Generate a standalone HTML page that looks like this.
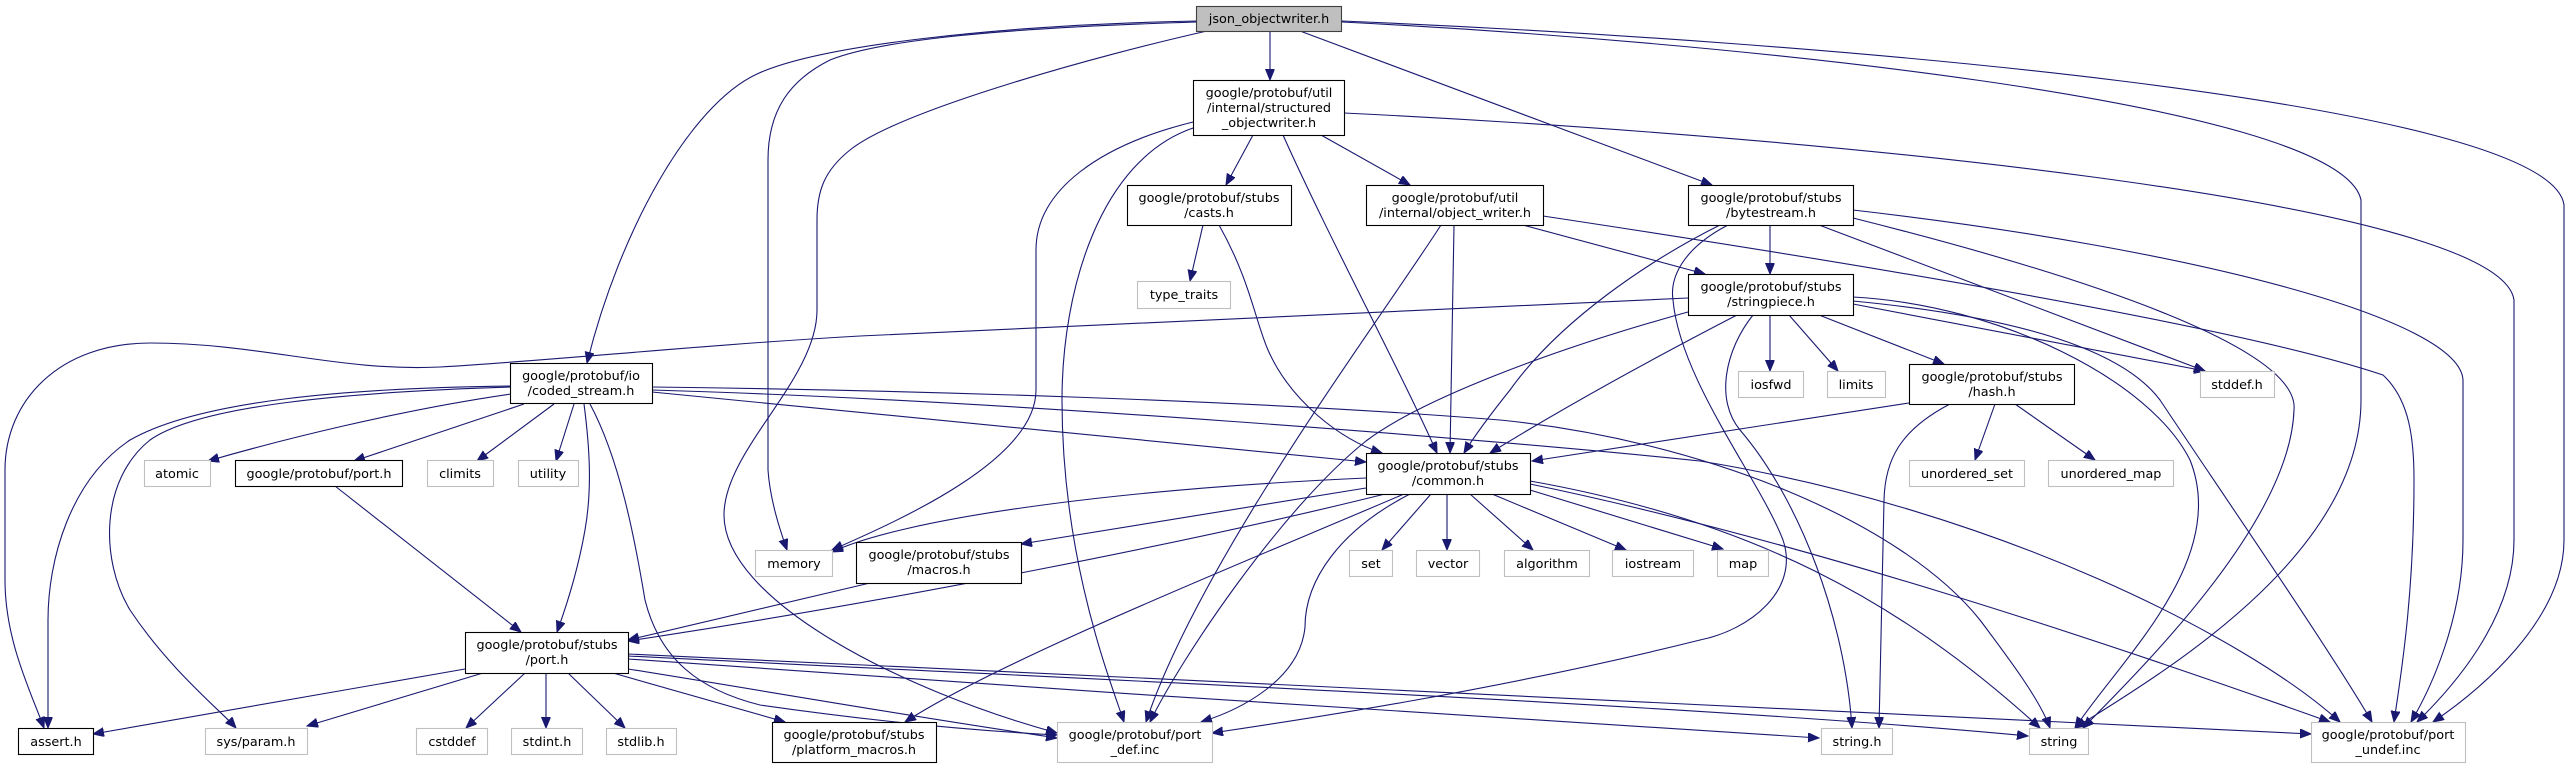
<!DOCTYPE html>
<html><head><meta charset="utf-8"><style>
html,body{margin:0;padding:0;background:#fff;}
svg{display:block;}
text{font-family:"DejaVu Sans","Liberation Sans",sans-serif;font-size:12.8px;fill:#000;text-anchor:middle;}
.e{fill:none;stroke:#191970;stroke-width:1.1;marker-end:url(#a);}
.b{fill:#fff;stroke:#000;stroke-width:1.1;}
.g{fill:#fff;stroke:#bfbfbf;stroke-width:1.1;}
</style></head><body>
<svg width="2571" height="767" viewBox="0 0 2571 767" xmlns="http://www.w3.org/2000/svg">
<defs><marker id="a" markerUnits="userSpaceOnUse" markerWidth="12" markerHeight="10" refX="11" refY="4.5" orient="auto"><path d="M0,0 L11,4.5 L0,9 z" fill="#191970" stroke="#191970"/></marker></defs>
<!-- edges -->
<path class="e" d="M1270,31 L1270,80"/>
<path class="e" d="M1197,21 C1000,25 820,45 757,74 C690,105 620,230 587,363"/>
<path class="e" d="M1197,22 C1000,28 880,40 830,60 C790,80 768,110 768,160 L768,470 C770,500 780,530 787,550"/>
<path class="e" d="M1207,31 C1100,55 900,110 850,150 C825,170 817,190 817,220 L817,310 C817,380 724,450 724,515 C724,600 900,690 1057,733"/>
<path class="e" d="M1300,31 L1712,185"/>
<path class="e" d="M1342,22 C1700,40 2340,100 2361,200 L2361,400 C2361,560 2150,680 2075,728"/>
<path class="e" d="M1342,21 C1800,40 2550,100 2564,205 L2564,540 C2564,620 2480,690 2433,722"/>
<path class="e" d="M1253,135 L1226,185"/>
<path class="e" d="M1321,135 L1410,185"/>
<path class="e" d="M1283,135 C1330,240 1400,370 1437,453"/>
<path class="e" d="M1344,113 C1800,135 2500,200 2514,300 L2514,540 C2514,620 2450,690 2417,722"/>
<path class="e" d="M1193,122 C1100,145 1036,190 1036,250 L1036,390 C1036,460 900,520 832,550"/>
<path class="e" d="M1193,128 C1100,160 1062,290 1062,400 C1062,560 1110,680 1124,722"/>
<path class="e" d="M1203,225 L1190,281"/>
<path class="e" d="M1219,225 C1250,280 1255,320 1268,350 C1290,400 1340,440 1382,453"/>
<path class="e" d="M1454,225 L1450,453"/>
<path class="e" d="M1441,225 C1380,320 1200,560 1146,722"/>
<path class="e" d="M1523,225 L1705,274"/>
<path class="e" d="M1543,216 C1900,270 2250,330 2383,375 C2410,400 2414,440 2414,480 C2414,600 2400,680 2394,722"/>
<path class="e" d="M1770,225 L1770,274"/>
<path class="e" d="M1720,225 C1650,260 1560,320 1510,390 C1490,415 1475,435 1464,453"/>
<path class="e" d="M1728,225 C1680,250 1670,280 1673,300 C1680,380 1760,480 1783,540 C1800,590 1750,630 1700,640 C1500,690 1300,720 1212,733"/>
<path class="e" d="M1819,225 L2205,371"/>
<path class="e" d="M1853,218 C2100,280 2300,350 2294,410 C2290,520 2150,660 2083,728"/>
<path class="e" d="M1853,210 C2200,250 2460,320 2463,380 L2463,540 C2463,620 2430,690 2411,722"/>
<path class="e" d="M1770,315 L1770,371"/>
<path class="e" d="M1789,315 L1838,371"/>
<path class="e" d="M1819,315 L1944,364"/>
<path class="e" d="M1853,304 L2205,371"/>
<path class="e" d="M1853,297 C2000,305 2150,380 2190,460 C2230,560 2120,660 2075,728"/>
<path class="e" d="M1853,301 C2050,320 2130,360 2160,400 C2220,490 2330,650 2372,722"/>
<path class="e" d="M1753,315 C1725,350 1715,400 1740,430 C1800,500 1845,620 1852,728"/>
<path class="e" d="M1737,315 C1650,360 1560,410 1490,453"/>
<path class="e" d="M1688,312 C1550,350 1420,400 1366,441 C1280,510 1180,660 1150,722"/>
<path class="e" d="M1688,298 L860,336 C700,345 560,360 440,367 C340,372 260,343 150,343 C60,343 5,400 5,470 L5,580 C5,640 30,690 44,728"/>
<path class="e" d="M1995,404 L1975,460"/>
<path class="e" d="M2015,404 L2095,460"/>
<path class="e" d="M1950,404 C1900,430 1885,460 1884,500 L1879,728"/>
<path class="e" d="M1909,403 L1532,461"/>
<path class="e" d="M511,394 C400,410 280,440 208,461"/>
<path class="e" d="M524,404 L354,461"/>
<path class="e" d="M554,404 L477,461"/>
<path class="e" d="M574,404 L556,461"/>
<path class="e" d="M584,404 C590,450 592,490 585,530 C578,570 565,610 557,632"/>
<path class="e" d="M511,386 C350,388 200,400 130,440 C70,480 48,560 48,620 L48,728"/>
<path class="e" d="M511,387 C350,392 200,405 150,440 C100,480 100,560 130,610 C170,670 220,710 236,728"/>
<path class="e" d="M590,404 C620,460 635,540 645,600 C660,660 700,690 760,705 C900,725 1000,732 1057,735"/>
<path class="e" d="M652,392 L1366,462"/>
<path class="e" d="M652,387 C900,390 1250,400 1500,420 C1700,440 1900,520 1980,620 C2010,660 2040,700 2050,728"/>
<path class="e" d="M652,390 C1000,400 1500,440 1700,461 C2000,510 2250,640 2340,722"/>
<path class="e" d="M465,669 L93,734"/>
<path class="e" d="M483,673 L307,726"/>
<path class="e" d="M525,673 L466,728"/>
<path class="e" d="M546,673 L546,728"/>
<path class="e" d="M568,673 L625,728"/>
<path class="e" d="M613,673 L785,722"/>
<path class="e" d="M628,669 C760,690 900,715 1057,738"/>
<path class="e" d="M628,659 C1000,685 1500,720 1819,738"/>
<path class="e" d="M628,656 C1100,680 1700,705 2028,736"/>
<path class="e" d="M628,654 C1200,680 1900,715 2311,734"/>
<path class="e" d="M335,486 L521,632"/>
<path class="e" d="M870,583 L628,640"/>
<path class="e" d="M1366,478 C1100,490 900,520 832,552"/>
<path class="e" d="M1366,488 L1021,544"/>
<path class="e" d="M1385,494 C1200,540 900,600 628,641"/>
<path class="e" d="M1404,494 C1250,560 1000,660 905,722"/>
<path class="e" d="M1410,494 C1340,530 1305,580 1305,627 C1300,680 1240,710 1201,722"/>
<path class="e" d="M1431,494 L1382,550"/>
<path class="e" d="M1447,494 L1447,550"/>
<path class="e" d="M1470,494 L1533,550"/>
<path class="e" d="M1492,494 L1626,550"/>
<path class="e" d="M1530,490 L1723,549"/>
<path class="e" d="M1530,481 C1750,520 1900,600 2040,728"/>
<path class="e" d="M1530,484 C1800,540 2100,640 2330,722"/>
<!-- nodes -->
<rect x="1196.5" y="6.5" width="145" height="25" fill="#bfbfbf" stroke="#404040" stroke-width="1.1"/>
<text x="1269" y="23">json_objectwriter.h</text>
<rect class="b" x="1193.5" y="80.5" width="151" height="55"/>
<text x="1269" y="97">google/protobuf/util</text><text x="1269" y="112">/internal/structured</text><text x="1269" y="127">_objectwriter.h</text>
<rect class="b" x="1127.5" y="185.5" width="164" height="40"/>
<text x="1209" y="202">google/protobuf/stubs</text><text x="1209" y="217">/casts.h</text>
<rect class="g" x="1137.5" y="281.5" width="93" height="27"/>
<text x="1184" y="299">type_traits</text>
<rect class="b" x="1366.5" y="185.5" width="177" height="40"/>
<text x="1455" y="202">google/protobuf/util</text><text x="1455" y="217">/internal/object_writer.h</text>
<rect class="b" x="1688.5" y="185.5" width="165" height="40"/>
<text x="1771" y="202">google/protobuf/stubs</text><text x="1771" y="217">/bytestream.h</text>
<rect class="b" x="1688.5" y="274.5" width="165" height="41"/>
<text x="1771" y="291">google/protobuf/stubs</text><text x="1771" y="306">/stringpiece.h</text>
<rect class="b" x="510.5" y="363.5" width="142" height="40"/>
<text x="581" y="380">google/protobuf/io</text><text x="581" y="395">/coded_stream.h</text>
<rect class="b" x="1909.5" y="364.5" width="165" height="40"/>
<text x="1992" y="381">google/protobuf/stubs</text><text x="1992" y="396">/hash.h</text>
<rect class="g" x="1738.5" y="371.5" width="65" height="26"/><text x="1771" y="389">iosfwd</text>
<rect class="g" x="1827.5" y="371.5" width="58" height="26"/><text x="1856" y="389">limits</text>
<rect class="g" x="2200.5" y="371.5" width="74" height="26"/><text x="2237" y="389">stddef.h</text>
<rect class="g" x="144.5" y="460.5" width="66" height="26"/><text x="177" y="478">atomic</text>
<rect class="b" x="235.5" y="460.5" width="167" height="26"/><text x="319" y="478">google/protobuf/port.h</text>
<rect class="g" x="427.5" y="460.5" width="66" height="26"/><text x="460" y="478">climits</text>
<rect class="g" x="518.5" y="460.5" width="60" height="26"/><text x="548" y="478">utility</text>
<rect class="g" x="1909.5" y="460.5" width="115" height="26"/><text x="1967" y="478">unordered_set</text>
<rect class="g" x="2048.5" y="460.5" width="125" height="26"/><text x="2111" y="478">unordered_map</text>
<rect class="b" x="1366.5" y="453.5" width="164" height="41"/>
<text x="1448" y="470">google/protobuf/stubs</text><text x="1448" y="485">/common.h</text>
<rect class="b" x="856.5" y="542.5" width="165" height="41"/>
<text x="939" y="559">google/protobuf/stubs</text><text x="939" y="574">/macros.h</text>
<rect class="g" x="755.5" y="550.5" width="77" height="26"/><text x="794" y="568">memory</text>
<rect class="g" x="1349.5" y="550.5" width="43" height="26"/><text x="1371" y="568">set</text>
<rect class="g" x="1416.5" y="550.5" width="63" height="26"/><text x="1448" y="568">vector</text>
<rect class="g" x="1504.5" y="550.5" width="85" height="26"/><text x="1547" y="568">algorithm</text>
<rect class="g" x="1612.5" y="550.5" width="81" height="26"/><text x="1653" y="568">iostream</text>
<rect class="g" x="1717.5" y="550.5" width="51" height="26"/><text x="1743" y="568">map</text>
<rect class="b" x="465.5" y="632.5" width="163" height="41"/>
<text x="547" y="649">google/protobuf/stubs</text><text x="547" y="664">/port.h</text>
<rect class="b" x="18.5" y="728.5" width="75" height="26"/><text x="56" y="746">assert.h</text>
<rect class="g" x="205.5" y="728.5" width="102" height="26"/><text x="256" y="746">sys/param.h</text>
<rect class="g" x="416.5" y="728.5" width="71" height="26"/><text x="452" y="746">cstddef</text>
<rect class="g" x="511.5" y="728.5" width="71" height="26"/><text x="547" y="746">stdint.h</text>
<rect class="g" x="606.5" y="728.5" width="70" height="26"/><text x="641" y="746">stdlib.h</text>
<rect class="b" x="772.5" y="722.5" width="164" height="40"/>
<text x="854" y="739">google/protobuf/stubs</text><text x="854" y="754">/platform_macros.h</text>
<rect class="g" x="1057.5" y="722.5" width="155" height="40"/>
<text x="1135" y="739">google/protobuf/port</text><text x="1135" y="754">_def.inc</text>
<rect class="g" x="1821.5" y="728.5" width="71" height="26"/><text x="1857" y="746">string.h</text>
<rect class="g" x="2029.5" y="728.5" width="59" height="26"/><text x="2059" y="746">string</text>
<rect class="g" x="2311.5" y="722.5" width="154" height="40"/>
<text x="2388" y="739">google/protobuf/port</text><text x="2388" y="754">_undef.inc</text>
</svg>
</body></html>
